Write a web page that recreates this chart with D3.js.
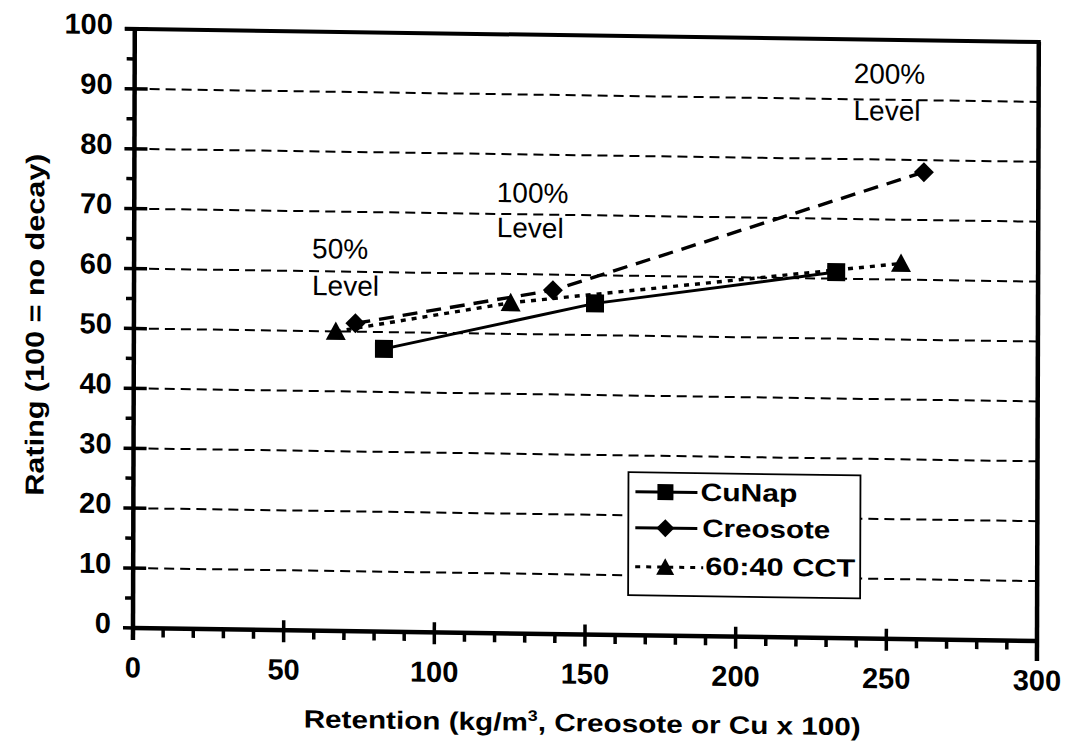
<!DOCTYPE html>
<html><head><meta charset="utf-8">
<script src="https://cdn.jsdelivr.net/npm/d3@7"></script>
<style>
body{margin:0;background:#fff}
text{font-family:"Liberation Sans",Arial,sans-serif;fill:#000}
</style>
</head><body>
<svg id="c" width="1066" height="745"></svg>
<script>
// ---- data ----
const xTicks = [0, 50, 100, 150, 200, 250, 300];
const yTicks = [0, 10, 20, 30, 40, 50, 60, 70, 80, 90, 100];
const gridValues = [10, 20, 30, 40, 50, 60, 70, 80, 90];
const seriesNames = ["CuNap", "Creosote", "60:40 CCT"];
const cunapX = [83, 153, 233];
const cunapY = [47.2, 55.3, 61.1];
const creoX = [73.5, 139, 262];
const creoY = [51.4, 57.4, 78];
const cctX = [67, 125, 254.5];
const cctY = [50, 55.2, 62.7];
const levelTop = ["50%", "100%", "200%"];
const levelBottom = ["Level", "Level", "Level"];
const xTitle = "Retention (kg/m";
const yTitle = "Rating (100 = no decay)";

// ---- layout ----
const x = d3.scaleLinear().domain([0, 300]).range([133, 1037]);
const y = d3.scaleLinear().domain([0, 100]).range([628, 29]);

const svg = d3.select("#c");
// the scanned original is slightly sheared
const g = svg.append("g").attr("transform", "matrix(1,0.0144,-0.003,1,1.88,-1.93)");

// gridlines
g.append("g").selectAll("line").data(gridValues).join("line")
  .attr("x1", 148).attr("x2", x(300))
  .attr("y1", d => y(d)).attr("y2", d => y(d))
  .attr("stroke", "#000").attr("stroke-width", 2).attr("stroke-dasharray", "10,6");

// series
const series = [
  {name: seriesNames[0], xs: cunapX, ys: cunapY, dash: null, w: 3, marker: "square", legDash: null},
  {name: seriesNames[1], xs: creoX, ys: creoY, dash: "15,9", w: 3.4, marker: "diamond", legDash: null},
  {name: seriesNames[2], xs: cctX, ys: cctY, dash: "5,6", w: 3.4, marker: "triangle", legDash: "5,6"}
];
function markerPath(type, s) {
  const h = s / 2;
  if (type === "square") return `M${-h},${-h}H${h}V${h}H${-h}Z`;
  if (type === "diamond") return `M0,${-h}L${h},0L0,${h}L${-h},0Z`;
  return `M0,${-h}L${h},${h * 0.85}L${-h},${h * 0.85}Z`;
}
const markerSize = {square: 18, diamond: 20, triangle: 20};
const line = d3.line().x(d => x(d[0])).y(d => y(d[1]));
series.forEach(s => {
  const pts = s.xs.map((v, i) => [v, s.ys[i]]);
  g.append("path").attr("d", line(pts)).attr("fill", "none")
    .attr("stroke", "#000").attr("stroke-width", s.w)
    .attr("stroke-dasharray", s.dash);
  g.append("g").selectAll("path").data(pts).join("path")
    .attr("transform", d => `translate(${x(d[0])},${y(d[1])})`)
    .attr("d", markerPath(s.marker, markerSize[s.marker])).attr("fill", "#000");
});

// level annotations
const annPos = [[311, 255.4, 292.4], [495.5, 196.8, 231.8], [852, 72.6, 109.6]];
annPos.forEach((p, i) => {
  g.append("text").attr("x", p[0]).attr("y", p[1]).attr("font-size", 28).text(levelTop[i]);
  g.append("text").attr("x", p[0]).attr("y", p[2]).attr("font-size", 28).text(levelBottom[i]);
});

// legend
const lg = g.append("g");
lg.append("rect").attr("x", 628).attr("y", 465).attr("width", 232).attr("height", 123)
  .attr("fill", "#fff").attr("stroke", "#000").attr("stroke-width", 1.8);
const rowY = [484.5, 520.5, 559.5];
const textY = [492.5, 528.5, 566.5];
const textLen = [97, 128, 150];
const textX = [700, 702, 705];
series.forEach((s, i) => {
  lg.append("line").attr("x1", 635).attr("x2", s.legDash ? 703 : 697)
    .attr("y1", rowY[i]).attr("y2", rowY[i])
    .attr("stroke", "#000").attr("stroke-width", 3)
    .attr("stroke-dasharray", s.legDash);
  lg.append("path").attr("transform", `translate(665,${rowY[i]})`)
    .attr("d", markerPath(s.marker, markerSize[s.marker] - 2)).attr("fill", "#000");
  lg.append("text").attr("x", textX[i]).attr("y", textY[i])
    .attr("font-size", 25).attr("font-weight", "bold")
    .attr("textLength", textLen[i]).attr("lengthAdjust", "spacingAndGlyphs")
    .text(s.name);
});

// frame & axes
const ax = g.append("g").attr("stroke", "#000");
ax.append("line").attr("x1", 123).attr("x2", x(300) + 2).attr("y1", y(100)).attr("y2", y(100)).attr("stroke-width", 4);
ax.append("line").attr("x1", x(300)).attr("x2", x(300)).attr("y1", y(100)).attr("y2", y(0) + 20).attr("stroke-width", 4.5);
ax.append("line").attr("x1", x(0)).attr("x2", x(0)).attr("y1", y(100) - 2).attr("y2", y(0) + 12).attr("stroke-width", 4.5);
ax.append("line").attr("x1", x(0)).attr("x2", x(300)).attr("y1", y(0)).attr("y2", y(0)).attr("stroke-width", 4.5);

const xMinor = d3.range(0, 301, 10).filter(v => v % 50 !== 0);
const yMinor = d3.range(5, 100, 10);
ax.append("g").selectAll("line").data(xTicks).join("line")
  .attr("x1", d => x(d)).attr("x2", d => x(d)).attr("y1", y(0) - 10).attr("y2", y(0) + 12).attr("stroke-width", 3.5);
ax.append("g").selectAll("line").data(xMinor).join("line")
  .attr("x1", d => x(d)).attr("x2", d => x(d)).attr("y1", y(0)).attr("y2", y(0) + 9).attr("stroke-width", 3.5);
ax.append("g").selectAll("line").data(yTicks).join("line")
  .attr("x1", 123).attr("x2", 146).attr("y1", d => y(d)).attr("y2", d => y(d)).attr("stroke-width", 3.5);
ax.append("g").selectAll("line").data(yMinor).join("line")
  .attr("x1", 125).attr("x2", x(0)).attr("y1", d => y(d)).attr("y2", d => y(d)).attr("stroke-width", 3.5);

// tick labels
g.append("g").selectAll("text").data(yTicks).join("text")
  .attr("x", 111).attr("y", d => y(d) - 5).attr("dy", "0.36em")
  .attr("text-anchor", "end").attr("font-size", 29).attr("font-weight", "bold")
  .text(d => d);
g.append("g").selectAll("text").data(xTicks).join("text")
  .attr("x", d => x(d)).attr("y", y(0) + 39).attr("dy", "0.36em")
  .attr("text-anchor", "middle").attr("font-size", 29).attr("font-weight", "bold")
  .text(d => d);

// axis titles
const xt = g.append("text").attr("x", 304).attr("y", 725)
  .attr("font-size", 25).attr("font-weight", "bold")
  .attr("textLength", 557).attr("lengthAdjust", "spacingAndGlyphs");
xt.append("tspan").text(xTitle);
xt.append("tspan").attr("font-size", 15).attr("dy", -10).text("3");
xt.append("tspan").attr("dy", 10).text(", Creosote or Cu x 100)");

g.append("text").attr("transform", "translate(43,497) rotate(-90)")
  .attr("font-size", 26).attr("font-weight", "bold")
  .attr("textLength", 342).attr("lengthAdjust", "spacingAndGlyphs")
  .text(yTitle);
</script>
</body></html>
